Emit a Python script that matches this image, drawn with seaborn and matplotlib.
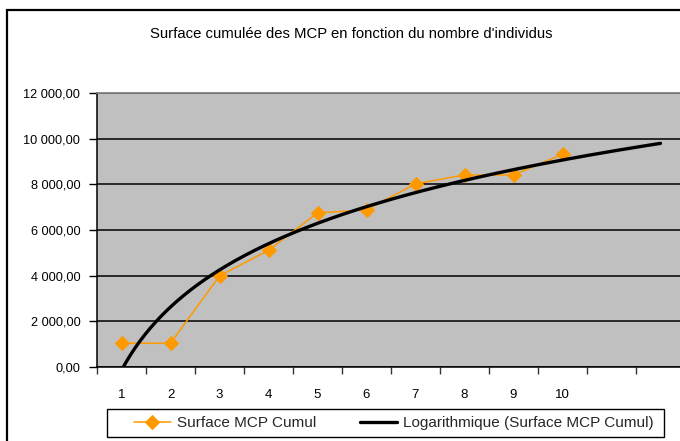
import numpy as np
import matplotlib
matplotlib.use("Agg")
import matplotlib.pyplot as plt
import matplotlib.ticker as mticker
from matplotlib.patches import Rectangle
import seaborn as sns

# Data ----------------------------------------------------------------------
individus = [1, 2, 3, 4, 5, 6, 7, 8, 9, 10]
surface_cumul = [1040, 1040, 3990, 5110, 6750, 6880, 8020, 8410, 8410, 9320]
x_labels = ["1", "2", "3", "4", "5", "6", "7", "8", "9", "10"]
n_periods = 12  # trend line extended two periods forward, as in Excel

orange = "#FF9900"
gray = "#C0C0C0"

sns.set_theme(style="white")
plt.rcParams["font.family"] = ["Liberation Sans", "DejaVu Sans"]

fig = plt.figure(figsize=(6.8, 4.41), dpi=100)
W, H = 680, 441
ax = fig.add_axes([97 / W, (H - 367) / H, 588 / W, 274 / H])
ax.set_facecolor(gray)

# Logarithmic trend (least squares on ln x)
a, b = np.polyfit(np.log(individus), surface_cumul, 1)
x_fit = np.linspace(1, n_periods, 300)
y_fit = a * np.log(x_fit) + b

sns.lineplot(x=individus, y=surface_cumul, ax=ax, color=orange, lw=1.1,
             marker="D", markersize=7, markeredgecolor=orange,
             label="Surface MCP Cumul", legend=False, zorder=3)
sns.lineplot(x=x_fit, y=y_fit, ax=ax, color="black", lw=2.4,
             label="Logarithmique (Surface MCP Cumul)", legend=False, zorder=4)

ax.set_xlim(0.5, n_periods + 0.5)
ax.set_ylim(0, 12000)
ax.yaxis.set_major_locator(mticker.MultipleLocator(2000))
ax.yaxis.set_major_formatter(mticker.FuncFormatter(
    lambda v, p: f"{v:,.2f}".replace(",", " ").replace(".", ",")))
ax.grid(axis="y", color="black", lw=1.1)
ax.set_axisbelow(True)

ax.set_xticks(individus)
ax.set_xticklabels(x_labels)
ax.set_xticks(np.arange(0.5, n_periods + 1, 1), minor=True)
ax.tick_params(axis="x", which="major", length=0, pad=16, labelsize=9.5, colors="black")
ax.tick_params(axis="x", which="minor", length=5, width=1, color="#333333",
               direction="out", bottom=True)
ax.tick_params(axis="y", length=6, width=1, pad=6, labelsize=9.2,
               direction="out", left=True, color="black", labelcolor="black")
ax.set_xlabel("")
ax.set_ylabel("")

for side in ["left", "bottom"]:
    ax.spines[side].set_color("black")
    ax.spines[side].set_linewidth(1.1)
ax.spines["top"].set_color("#808080")
ax.spines["right"].set_visible(False)

fig.text(351 / W, 1 - 34 / H, "Surface cumulée des MCP en fonction du nombre d'individus",
         ha="center", va="center", fontsize=10.7, color="black")

# outer chart frame
fig.patches.append(Rectangle((7 / W, -0.1), 1.2, 1.1 - 10 / H, transform=fig.transFigure,
                             fill=False, edgecolor="black", lw=1.6))

# legend box, then the legend entries inside it
fig.patches.append(Rectangle((107 / W, 1 - 437 / H), (664 - 107) / W, 28 / H,
                             transform=fig.transFigure, fill=True, facecolor="white",
                             edgecolor="black", lw=1.0))
handles, labels = ax.get_legend_handles_labels()
leg = fig.legend(handles, labels, ncol=2, loc="center left",
                 bbox_to_anchor=(134 / W, 1 - 423 / H),
                 frameon=False, fontsize=11, handlelength=2.4, columnspacing=2.9,
                 borderpad=0, borderaxespad=0, handletextpad=0.4)

fig.savefig("out.png", dpi=100)
